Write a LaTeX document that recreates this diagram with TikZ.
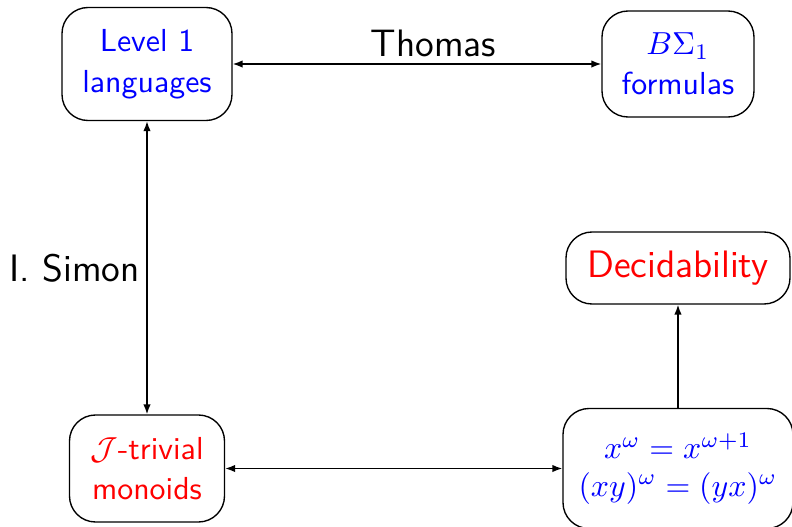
\documentclass[tikz,border=0pt]{standalone}
\usetikzlibrary{arrows.meta}
% one drawing unit = 0.314pt
\newcommand\px[1]{#1*0.314pt}
\begin{document}
\begin{tikzpicture}[x=0.314pt,y=-0.314pt,
  box/.style={draw,rounded corners=\px{26},align=center,inner sep=0pt,
    line width=0.43pt,font=\sffamily\fontsize{10}{12.7}\selectfont},
  bigbox/.style={box,font=\sffamily\large},
  tag/.style={font=\sffamily\large,anchor=base,inner sep=0pt},
  link/.style={line width=0.43pt,{Latex[length=3.1pt,width=2.3pt]}-{Latex[length=3.1pt,width=2.3pt]}},
  oneway/.style={line width=0.43pt,-{Latex[length=3.1pt,width=2.3pt]}}]
\useasboundingbox (0,0) rectangle (792,527);

% boxes
\node[box,text=blue,minimum width=\px{170},minimum height=\px{113}] (lvl) at (147,64) {Level 1\\languages};
\node[box,text=blue,minimum width=\px{152},minimum height=\px{106}] (bsig) at (678,64) {$B\Sigma_1$\\formulas};
\node[bigbox,text=red,minimum width=\px{224},minimum height=\px{72}] (dec) at (678,268) {Decidability};
\node[box,text=red,minimum width=\px{155},minimum height=\px{107}] (jt) at (147,468.5) {$\mathcal{J}$-trivial\\monoids};
\node[box,text=blue,minimum width=\px{230},minimum height=\px{120},
  font=\fontsize{10}{11.8}\selectfont] (eq) at (678,468.5) {$x^\omega = x^{\omega+1}$\\$(xy)^\omega = (yx)^\omega$};

% connectors
\draw[link] (lvl) -- (bsig);
\draw[link] (lvl) -- (jt);
\draw[link] (jt) -- (eq);
\draw[oneway] (eq) -- (dec);

% labels
\node[tag] (thomas) at (433.5,56) {Thomas};
\node[tag] (simon) at (74.5,281) {I. Simon};
\end{tikzpicture}
\end{document}
